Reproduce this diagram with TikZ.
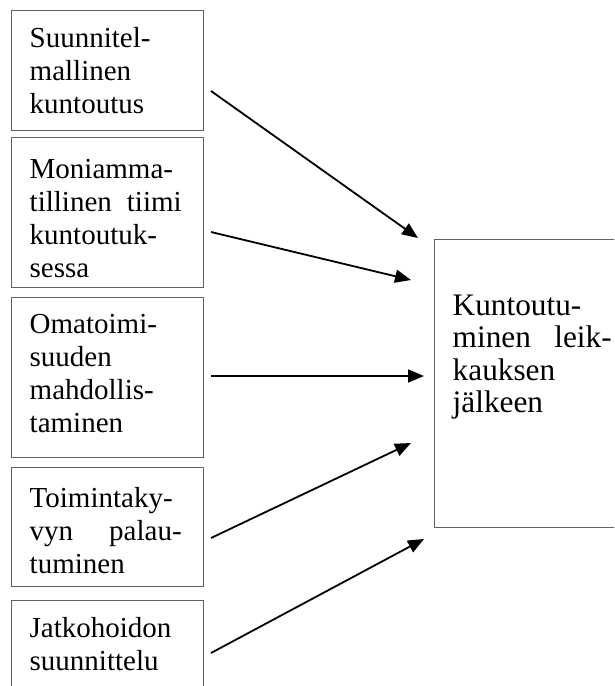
\documentclass[tikz,border=0pt]{standalone}
\usepackage{fontspec}
\setmainfont{Liberation Serif}
\usetikzlibrary{arrows.meta}

% text block for the small factor boxes (first line's baseline is the anchor)
\newcommand\factortext[1]{\parbox[t]{152pt}{\fontsize{29}{33}\selectfont #1}}
% text block for the outcome box
\newcommand\outcometext[1]{\parbox[t]{159pt}{\fontsize{31.3}{32.5}\selectfont #1}}
% a justified line: interword space stretched to the full width
\newcommand\fullline[1]{\makebox[\linewidth][s]{#1}}

\begin{document}
\begin{tikzpicture}[x=1pt, y=-1pt,
  framebox/.style={draw=black!62, line width=1pt, inner sep=0pt, anchor=north west},
  label/.style={inner sep=0pt, anchor=base west},
  link/.style={line width=1.8pt, -{Triangle[length=16pt, width=13pt]}}]

\useasboundingbox (0,0) rectangle (614,686);
\clip (0,0) rectangle (614,686);

% factor boxes on the left
\node[framebox, minimum width=192pt, minimum height=120pt] (b1) at (11,10)  {};
\node[framebox, minimum width=192pt, minimum height=150pt] (b2) at (11,137) {};
\node[framebox, minimum width=192pt, minimum height=160pt] (b3) at (11,297) {};
\node[framebox, minimum width=192pt, minimum height=119pt] (b4) at (11,467) {};
\node[framebox, minimum width=192pt, minimum height=120pt] (b5) at (11,600) {};

% outcome box on the right
\node[framebox, minimum width=220pt, minimum height=288pt] (r) at (434,239) {};

% box texts
\node[label] (t1) at (29.5,47)  {\factortext{Suunnitel-\\mallinen\\kuntoutus}};
\node[label] (t2) at (29.5,178) {\factortext{Moniamma-\\\fullline{tillinen tiimi}\\kuntoutuk-\\sessa}};
\node[label] (t3) at (29.5,333) {\factortext{Omatoimi-\\suuden\\mahdollis-\\taminen}};
\node[label] (t4) at (29.5,507) {\factortext{Toimintaky-\\\fullline{vyn palau-}\\tuminen}};
\node[label] (t5) at (29.5,637) {\factortext{Jatkohoidon\\suunnittelu}};
\node[label] (tr) at (452.5,315) {\outcometext{Kuntoutu-\\\fullline{minen leik-}\\kauksen\\jälkeen}};

% arrow ends
\coordinate (s1) at (211,91);  \coordinate (e1) at (418,238);
\coordinate (s2) at (211,232); \coordinate (e2) at (411,280);
\coordinate (s3) at (211,376); \coordinate (e3) at (424,376);
\coordinate (s4) at (211,538); \coordinate (e4) at (411,443);
\coordinate (s5) at (211,653); \coordinate (e5) at (424,539);

\draw[link] (s1) -- (e1);
\draw[link] (s2) -- (e2);
\draw[link] (s3) -- (e3);
\draw[link] (s4) -- (e4);
\draw[link] (s5) -- (e5);
\end{tikzpicture}
\end{document}
